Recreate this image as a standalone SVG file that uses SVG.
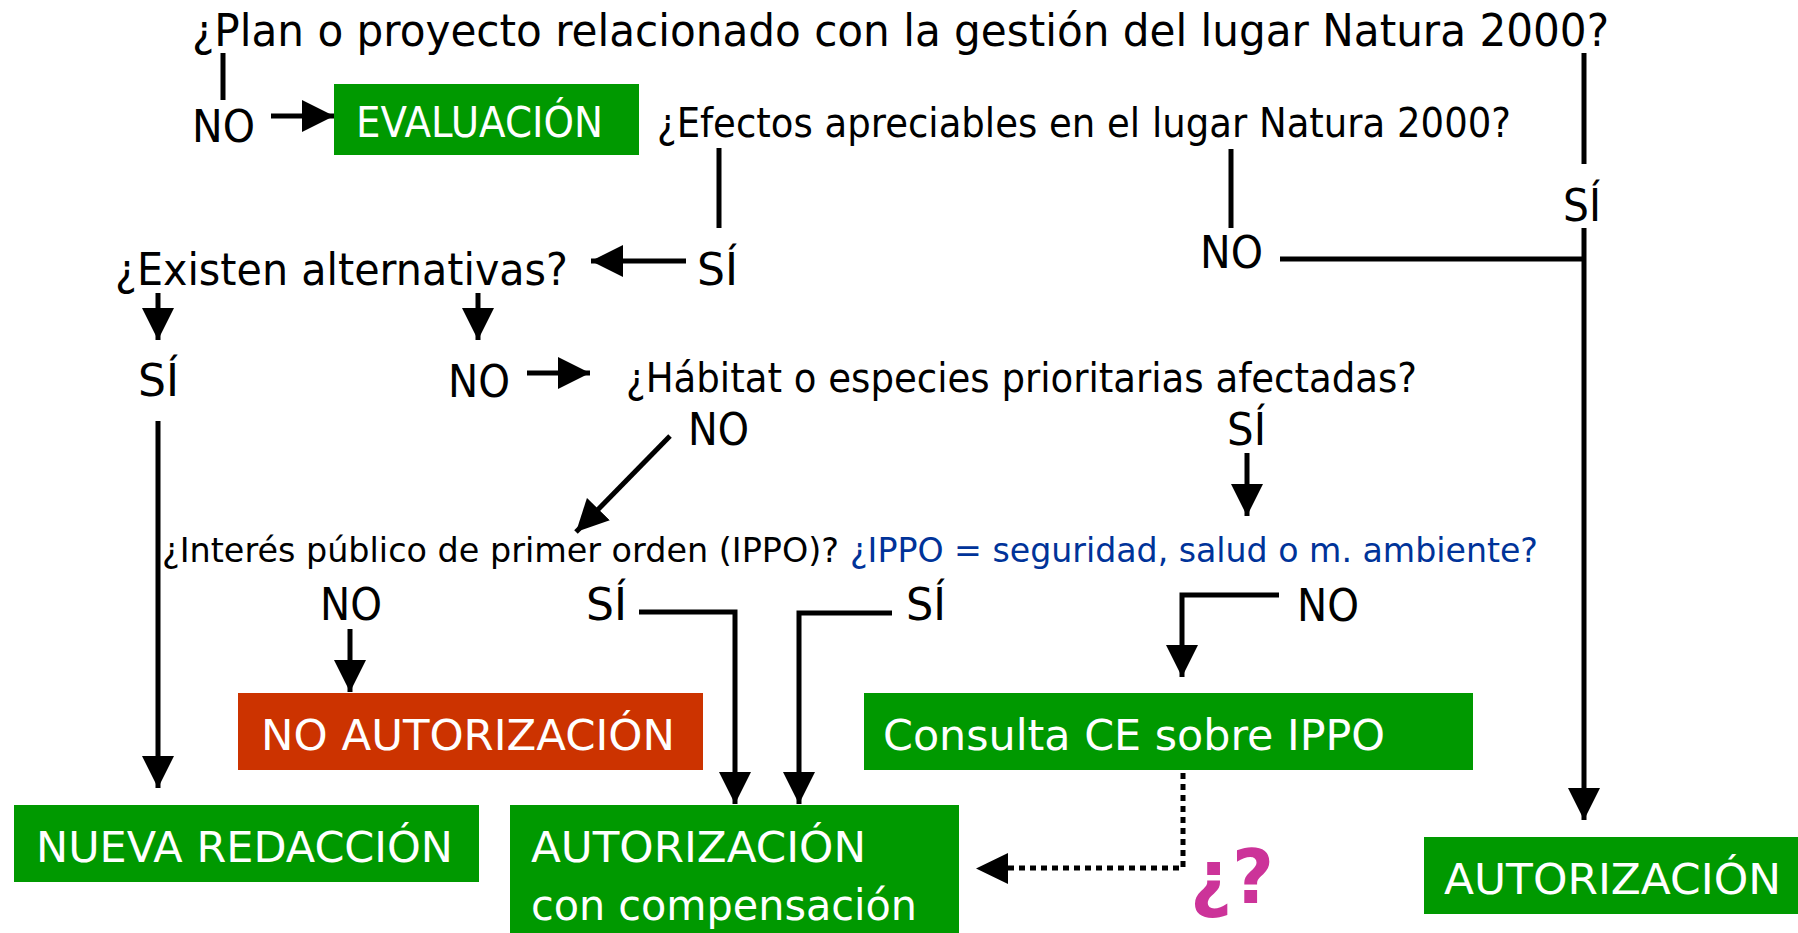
<svg xmlns="http://www.w3.org/2000/svg" width="1798" height="933" viewBox="0 0 1798 933">
<style>
text{font-family:"DejaVu Sans","Liberation Sans",sans-serif;fill:#000;}
.q{font-size:44px;}
.m{font-size:40px;}
.s{font-size:34px;}
.lab{font-size:44px;}
.bt{font-size:42px;fill:#fff;}
.blue{fill:#003399;}
.g{fill:#009900;}
.r{fill:#cc3300;}
.c line,.c path{stroke:#000;stroke-width:5;fill:none;}
.c .arr{marker-end:url(#ah);}
.c .dot{stroke-dasharray:6 5;}
.c polygon{fill:#000;stroke:none;}
.qm{font-size:74px;font-weight:bold;fill:#cc3399;}
</style>
<defs>
<marker id="ah" markerUnits="userSpaceOnUse" markerWidth="32" markerHeight="32" refX="30" refY="15" orient="auto" viewBox="0 0 30 30">
<path d="M0,0 L30,15 L0,30 z" fill="#000"/>
</marker>
</defs>
<rect width="1798" height="933" fill="#fff"/>
<g class="c" id="connectors">
<line x1="223" y1="53" x2="223" y2="100"/>
<line class="arr" x1="271" y1="116" x2="334" y2="116"/>
<line x1="719" y1="148" x2="719" y2="228"/>
<line class="arr" x1="686" y1="261" x2="591" y2="261"/>
<line x1="1584" y1="53" x2="1584" y2="164"/>
<line class="arr" x1="1584" y1="228" x2="1584" y2="820"/>
<line x1="1231" y1="149" x2="1231" y2="228"/>
<line x1="1280" y1="259" x2="1584" y2="259"/>
<line class="arr" x1="158" y1="293" x2="158" y2="340"/>
<line class="arr" x1="478" y1="293" x2="478" y2="340"/>
<line class="arr" x1="527" y1="373" x2="590" y2="373"/>
<line class="arr" x1="670" y1="436" x2="576" y2="532"/>
<line class="arr" x1="1247" y1="453" x2="1247" y2="516"/>
<line class="arr" x1="158" y1="421" x2="158" y2="788"/>
<line class="arr" x1="350" y1="629" x2="350" y2="692"/>
<path class="arr" d="M639,612 H735 V804"/>
<path class="arr" d="M892,613 H799 V804"/>
<path class="arr" d="M1279,595 H1182 V677"/>
<path class="dot" d="M1183,773 V868 H1006"/>
<polygon points="1008,853 976,868.5 1008,884"/>
</g>
<g id="q-plan"><text class="q" x="192" y="46" textLength="1417" lengthAdjust="spacingAndGlyphs">¿Plan o proyecto relacionado con la gestión del lugar Natura 2000?</text></g>
<g id="l-no1"><text class="lab" x="192" y="142" textLength="63" lengthAdjust="spacingAndGlyphs">NO</text></g>
<g id="n-evaluacion"><rect class="g" x="334" y="84" width="305" height="71"/><text class="bt" x="356" y="137" textLength="247" lengthAdjust="spacingAndGlyphs">EVALUACIÓN</text></g>
<g id="q-efectos"><text class="m" x="657" y="137" textLength="854" lengthAdjust="spacingAndGlyphs">¿Efectos apreciables en el lugar Natura 2000?</text></g>
<g id="l-si1"><text class="lab" x="697" y="285" textLength="41" lengthAdjust="spacingAndGlyphs">SÍ</text></g>
<g id="q-existen"><text class="q" x="115" y="285" textLength="453" lengthAdjust="spacingAndGlyphs">¿Existen alternativas?</text></g>
<g id="l-si2"><text class="lab" x="1563" y="221" textLength="38" lengthAdjust="spacingAndGlyphs">SÍ</text></g>
<g id="l-no2"><text class="lab" x="1200" y="268" textLength="63" lengthAdjust="spacingAndGlyphs">NO</text></g>
<g id="l-si3"><text class="lab" x="138" y="396" textLength="41" lengthAdjust="spacingAndGlyphs">SÍ</text></g>
<g id="l-no3"><text class="lab" x="448" y="397" textLength="62" lengthAdjust="spacingAndGlyphs">NO</text></g>
<g id="q-habitat"><text class="m" x="626" y="392" textLength="791" lengthAdjust="spacingAndGlyphs">¿Hábitat o especies prioritarias afectadas?</text></g>
<g id="l-no4"><text class="lab" x="688" y="445" textLength="61" lengthAdjust="spacingAndGlyphs">NO</text></g>
<g id="l-si4"><text class="lab" x="1227" y="445" textLength="39" lengthAdjust="spacingAndGlyphs">SÍ</text></g>
<g id="q-interes"><text class="s" x="162" y="562" textLength="677" lengthAdjust="spacingAndGlyphs">¿Interés público de primer orden (IPPO)?</text></g>
<g id="q-ippo"><text class="s blue" x="850" y="562" textLength="688" lengthAdjust="spacingAndGlyphs">¿IPPO = seguridad, salud o m. ambiente?</text></g>
<g id="l-no5"><text class="lab" x="320" y="620" textLength="62" lengthAdjust="spacingAndGlyphs">NO</text></g>
<g id="l-si5"><text class="lab" x="586" y="620" textLength="41" lengthAdjust="spacingAndGlyphs">SÍ</text></g>
<g id="l-si6"><text class="lab" x="906" y="620" textLength="40" lengthAdjust="spacingAndGlyphs">SÍ</text></g>
<g id="l-no6"><text class="lab" x="1297" y="621" textLength="62" lengthAdjust="spacingAndGlyphs">NO</text></g>
<g id="n-no-autorizacion"><rect class="r" x="238" y="693" width="465" height="77"/><text class="bt" x="261" y="750" textLength="414" lengthAdjust="spacingAndGlyphs">NO AUTORIZACIÓN</text></g>
<g id="n-consulta"><rect class="g" x="864" y="693" width="609" height="77"/><text class="bt" x="883" y="750" textLength="502" lengthAdjust="spacingAndGlyphs">Consulta CE sobre IPPO</text></g>
<g id="n-nueva"><rect class="g" x="14" y="805" width="465" height="77"/><text class="bt" x="36" y="862" textLength="417" lengthAdjust="spacingAndGlyphs">NUEVA REDACCIÓN</text></g>
<g id="n-aut-comp"><rect class="g" x="510" y="805" width="449" height="128"/><text class="bt" x="531" y="862" textLength="335" lengthAdjust="spacingAndGlyphs">AUTORIZACIÓN</text><text class="bt" x="531" y="920" textLength="386" lengthAdjust="spacingAndGlyphs">con compensación</text></g>
<g id="n-autorizacion"><rect class="g" x="1424" y="837" width="376" height="77"/><text class="bt" x="1444" y="894" textLength="337" lengthAdjust="spacingAndGlyphs">AUTORIZACIÓN</text></g>
<g id="l-qm"><text class="qm" x="1190" y="903" textLength="84" lengthAdjust="spacingAndGlyphs">¿?</text></g>
</svg>
